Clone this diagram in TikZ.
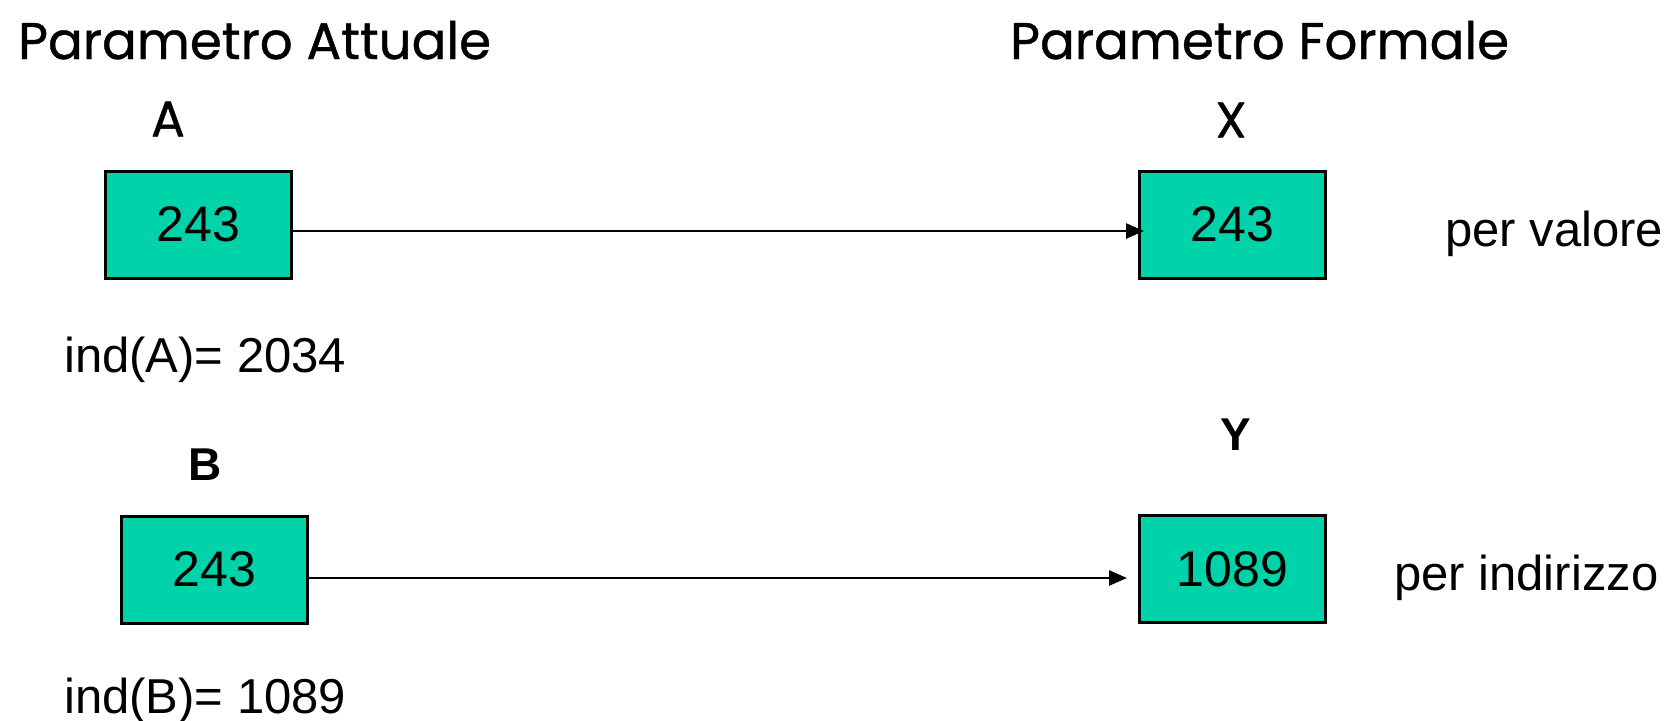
\documentclass[tikz,border=0pt]{standalone}
\usepackage{fontspec}
\setmainfont{Liberation Sans}
\newfontfamily\comicf[FakeBold=0.8]{Poppins}
\usetikzlibrary{arrows.meta}
\definecolor{boxteal}{RGB}{0,211,170}
\begin{document}
\begin{tikzpicture}[x=1pt,y=-1pt,
  valbox/.style={draw=black,line width=3pt,fill=boxteal,minimum width=186pt,minimum height=107pt,inner sep=0pt,
    font=\fontsize{50}{56}\selectfont},
  arr/.style={line width=2.5pt,-{Triangle[length=18pt,width=15pt]}},
  title/.style={anchor=base west,inner sep=0pt,font=\comicf\fontsize{51.5}{58}\selectfont},
  varname/.style={inner sep=0pt,font=\comicf\fontsize{50}{56}\selectfont},
  boldname/.style={inner sep=0pt,font=\bfseries\fontsize{46}{52}\selectfont},
  lab/.style={anchor=base west,inner sep=0pt,font=\fontsize{49}{55}\selectfont}]
\useasboundingbox[fill=white] (0,0) rectangle (1675,720);

\node[title] (t1) at (18,59) {Parametro Attuale};
\node[title] (t2) at (1010,59) {Parametro Formale};

\node[varname] (nA) at (168,119) {A};
\node[varname] (nX) at (1231,120) {X};

\node[valbox] (bA) at (198.5,224.5) {243};
\node[valbox] (bX) at (1232.5,224.5) {243};
\node[lab] (pv) at (1445,246) {per valore};

\node[lab] (iA) at (64,372) {ind(A)= 2034};

\node[boldname] (nB) at (205,465) {B};
\node[boldname] (nY) at (1236,435) {Y};

\node[valbox] (bB) at (214.5,569.5) {243};
\node[valbox] (bY) at (1232.5,569) {1089};
\node[lab] (pi) at (1394,590) {per indirizzo};

\node[lab] (iB) at (64,713) {ind(B)= 1089};

\draw[arr] ([yshift=-6.5pt]bA.east) -- ([yshift=-6.5pt,xshift=6pt]bX.west);
\draw[arr] ([yshift=-8.5pt]bB.east) -- ([yshift=-9pt,xshift=-11pt]bY.west);
\end{tikzpicture}
\end{document}
